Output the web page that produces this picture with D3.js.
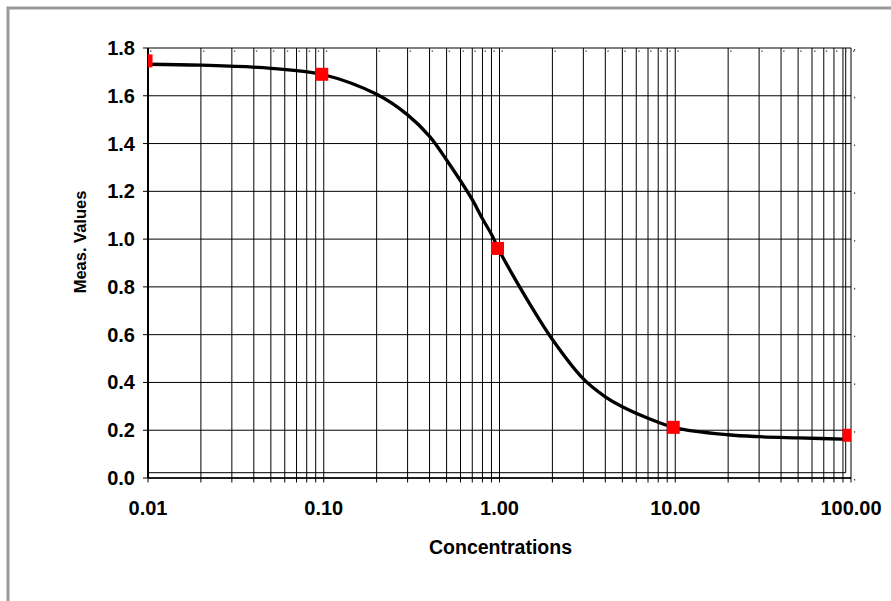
<!DOCTYPE html>
<html>
<head>
<meta charset="utf-8">
<script src="https://cdn.jsdelivr.net/npm/d3@7"></script>
<style>
  html, body { margin: 0; padding: 0; background: #fff; }
  svg { display: block; font-family: "Liberation Sans", Arial, sans-serif; }
</style>
</head>
<body>
<script>
// measured points (red squares)
const concentrations = [0.01, 0.1, 1, 10, 100];
const measValues = [1.746, 1.690, 0.961, 0.212, 0.179];

// fitted curve
const curveConc = [0.01, 0.02, 0.05, 0.1, 0.2, 0.3, 0.4, 0.5, 0.7, 0.8, 0.9, 1, 1.2, 1.5, 2, 3, 4, 5, 7, 10, 20, 30, 50, 100];
const curveValues = [1.732, 1.728, 1.715, 1.688, 1.606, 1.52, 1.43, 1.331, 1.165, 1.085, 1.02, 0.95, 0.845, 0.724, 0.58, 0.415, 0.34, 0.298, 0.25, 0.21, 0.181, 0.173, 0.168, 0.162];

// axis labels
const xTicks = [0.01, 0.1, 1, 10, 100];
const xTickLabels = ["0.01", "0.10", "1.00", "10.00", "100.00"];
const yTicks = [0, 0.2, 0.4, 0.6, 0.8, 1.0, 1.2, 1.4, 1.6, 1.8];

const width = 891, height = 601;
const pLeft = 148, pRight = 851, pTop = 48, pBottom = 478;

const svg = d3.select("body").append("svg")
    .attr("width", width)
    .attr("height", height);

// outer grey frame (runs off the page on right/bottom)
svg.append("rect")
    .attr("x", 8).attr("y", 8)
    .attr("width", 900).attr("height", 610)
    .attr("fill", "none")
    .attr("stroke", "#999")
    .attr("stroke-width", 3);

const x = d3.scaleLog().domain([0.01, 100]).range([pLeft, pRight]);
const y = d3.scaleLinear().domain([0, 1.8]).range([pBottom, pTop]);

// minor + major values for vertical grid
let gridX = [];
for (let d = 0.01; d < 99; d *= 10) {
    for (let k = 1; k < 10; k++) gridX.push(+(d * k).toPrecision(3));
}
gridX.push(100);

const grid = svg.append("g").attr("stroke", "#000").attr("stroke-width", 1);

grid.selectAll("line.v")
    .data(gridX)
    .join("line")
    .attr("class", "v")
    .attr("x1", d => x(d)).attr("x2", d => x(d))
    .attr("y1", pTop).attr("y2", pBottom + 4.5);

grid.selectAll("line.h")
    .data(yTicks)
    .join("line")
    .attr("class", "h")
    .attr("x1", pLeft - 5).attr("x2", pRight)
    .attr("y1", d => y(d)).attr("y2", d => y(d));

// inner plot frame, a few pixels inside the axes
grid.append("line")
    .attr("x1", pLeft).attr("x2", pRight - 5.3)
    .attr("y1", pBottom - 5.3).attr("y2", pBottom - 5.3);
grid.append("line")
    .attr("x1", pRight - 5.3).attr("x2", pRight - 5.3)
    .attr("y1", pTop).attr("y2", pBottom - 5.3);

// axes
svg.append("line")
    .attr("x1", pLeft).attr("x2", pLeft)
    .attr("y1", pTop).attr("y2", pBottom)
    .attr("stroke", "#000").attr("stroke-width", 2);
svg.append("line")
    .attr("x1", pLeft).attr("x2", pRight)
    .attr("y1", pBottom).attr("y2", pBottom)
    .attr("stroke", "#000").attr("stroke-width", 1.5);

// tiny dot artefacts near gridlines
svg.append("g").attr("fill", "#444")
    .selectAll("rect")
    .data(gridX)
    .join("rect")
    .attr("x", d => x(d) + 2).attr("y", pTop + 2.5)
    .attr("width", 1.5).attr("height", 1.2);
svg.append("g").attr("fill", "#444")
    .selectAll("rect")
    .data(yTicks)
    .join("rect")
    .attr("x", pRight + 3).attr("y", d => y(d) + 1)
    .attr("width", 1.2).attr("height", 1.5);

// tick labels
svg.append("g")
    .attr("font-size", "20px").attr("font-weight", "bold").attr("fill", "#000")
    .attr("text-anchor", "end")
    .selectAll("text")
    .data(yTicks)
    .join("text")
    .attr("x", 135)
    .attr("y", d => y(d) + 7)
    .text(d => d.toFixed(1));

svg.append("g")
    .attr("font-size", "20px").attr("font-weight", "bold").attr("fill", "#000")
    .attr("text-anchor", "middle")
    .selectAll("text")
    .data(xTicks)
    .join("text")
    .attr("x", d => x(d))
    .attr("y", 515)
    .text((d, i) => xTickLabels[i]);

// axis titles
svg.append("text")
    .attr("x", 500.5).attr("y", 554)
    .attr("text-anchor", "middle")
    .attr("font-size", "19.5px").attr("font-weight", "bold")
    .text("Concentrations");

svg.append("text")
    .attr("transform", "translate(86,242) rotate(-90)")
    .attr("text-anchor", "middle")
    .attr("font-size", "16.5px").attr("font-weight", "bold")
    .text("Meas. Values");

// clip to plot area
svg.append("clipPath").attr("id", "plotClip")
    .append("rect")
    .attr("x", pLeft).attr("y", pTop)
    .attr("width", pRight - pLeft).attr("height", pBottom - pTop);

const plot = svg.append("g").attr("clip-path", "url(#plotClip)");

const line = d3.line()
    .x(d => x(d[0]))
    .y(d => y(d[1]))
    .curve(d3.curveCatmullRom.alpha(0.5));

plot.append("path")
    .datum(d3.zip(curveConc, curveValues))
    .attr("d", line)
    .attr("fill", "none")
    .attr("stroke", "#000")
    .attr("stroke-width", 3.3);

const sq = 13;
plot.append("g")
    .attr("transform", "translate(-2,0)")
    .selectAll("rect")
    .data(d3.zip(concentrations, measValues))
    .join("rect")
    .attr("x", d => x(d[0]) - sq / 2)
    .attr("y", d => y(d[1]) - sq / 2)
    .attr("width", sq).attr("height", sq)
    .attr("fill", "#ff0000");
</script>
</body>
</html>
